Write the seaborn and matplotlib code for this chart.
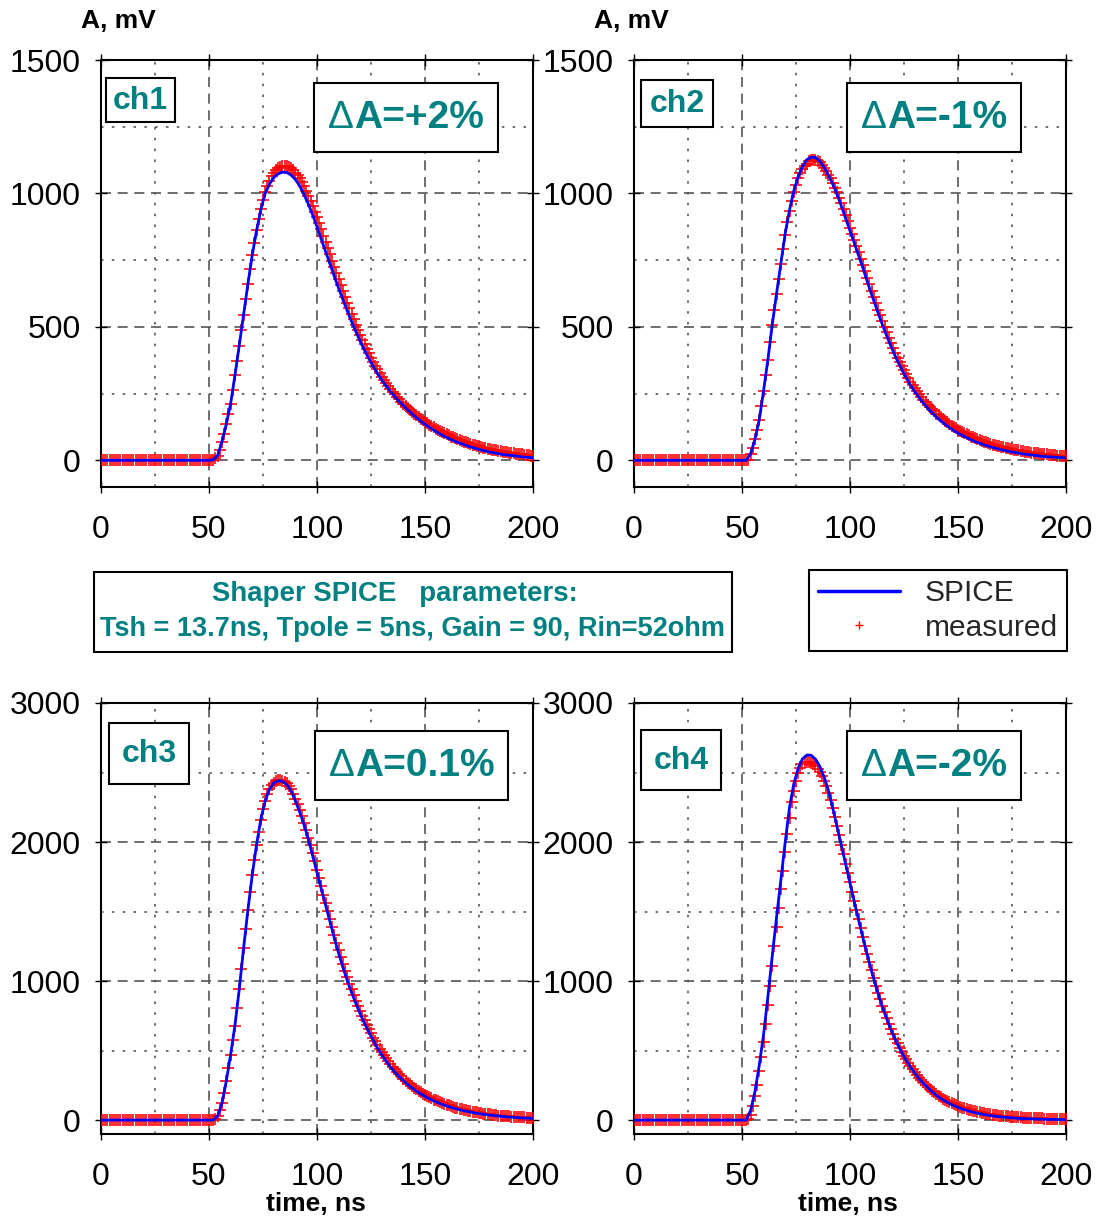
import matplotlib
matplotlib.use("Agg")
import numpy as np
import pandas as pd
import seaborn as sns
import matplotlib.pyplot as plt
from matplotlib.patches import Rectangle
from matplotlib.lines import Line2D
from matplotlib.ticker import MultipleLocator
from matplotlib import font_manager

# ---------------- data ----------------
t_spice = list(range(0, 201, 2))   # ns, SPICE curve sampling
t_meas = list(range(0, 201))       # ns, measured samples

spice_ch1 = [
    0, 0, 0, 0, 0, 0, 0, 0, 0, 0,
    0, 0, 0, 0, 0, 0, 0, 0, 0, 0,
    0, 0, 0, 0, 0, 0, 2, 18, 70, 135,
    212, 318, 430, 545, 660, 768, 860, 940, 1000, 1035,
    1060, 1073, 1080, 1078, 1069, 1052, 1028, 996, 960, 920,
    875, 828, 782, 736, 690, 645, 602, 560, 520, 482,
    446, 412, 381, 352, 325, 301, 279, 258, 239, 221,
    205, 189, 174, 160, 147, 135, 124, 113, 103, 94,
    86, 78, 71, 65, 59, 53, 48, 43, 39, 35,
    31, 28, 25, 22, 20, 18, 16, 14, 12, 11,
    10]
meas_ch1 = [
    0, 0, 0, 0, 0, 0, 0, 0, 0, 0,
    0, 0, 0, 0, 0, 0, 0, 0, 0, 0,
    0, 0, 0, 0, 0, 0, 0, 0, 0, 0,
    0, 0, 0, 0, 0, 0, 0, 0, 0, 0,
    0, 0, 0, 0, 0, 0, 0, 0, 0, 0,
    0, 0, 2, 8, 18, 40, 70, 100, 135, 172,
    212, 263, 318, 374, 430, 488, 545, 603, 660, 715,
    768, 816, 862, 903, 943, 975, 1005, 1028, 1048, 1065,
    1078, 1088, 1095, 1100, 1103, 1104, 1103, 1099, 1094, 1087,
    1078, 1068, 1056, 1042, 1027, 1010, 992, 973, 953, 932,
    910, 888, 865, 842, 818, 795, 772, 748, 725, 702,
    679, 656, 634, 612, 590, 569, 548, 528, 508, 489,
    470, 452, 434, 417, 401, 385, 370, 355, 341, 327,
    314, 302, 290, 279, 268, 257, 247, 238, 229, 220,
    212, 204, 196, 189, 182, 175, 168, 162, 156, 150,
    144, 139, 133, 128, 123, 118, 114, 109, 105, 101,
    97, 93, 89, 86, 82, 79, 76, 73, 70, 67,
    64, 62, 59, 57, 54, 52, 50, 48, 46, 44,
    42, 40, 39, 37, 35, 34, 32, 31, 30, 28,
    27, 26, 25, 24, 23, 22, 21, 20, 19, 18,
    17]

spice_ch2 = [
    0, 0, 0, 0, 0, 0, 0, 0, 0, 0,
    0, 0, 0, 0, 0, 0, 0, 0, 0, 0,
    0, 0, 0, 0, 0, 0, 0, 25, 79, 152,
    262, 378, 508, 625, 738, 850, 938, 1010, 1063, 1100,
    1126, 1136, 1135, 1121, 1098, 1068, 1035, 997, 953, 906,
    860, 814, 767, 720, 670, 622, 575, 530, 487, 446,
    408, 372, 340, 310, 282, 257, 235, 214, 195, 178,
    162, 148, 135, 123, 112, 102, 93, 85, 77, 70,
    64, 58, 53, 48, 44, 40, 36, 33, 30, 27,
    24, 22, 20, 18, 16, 14, 13, 12, 11, 10,
    9]
meas_ch2 = [
    0, 0, 0, 0, 0, 0, 0, 0, 0, 0,
    0, 0, 0, 0, 0, 0, 0, 0, 0, 0,
    0, 0, 0, 0, 0, 0, 0, 0, 0, 0,
    0, 0, 0, 0, 0, 0, 0, 0, 0, 0,
    0, 0, 0, 0, 0, 0, 0, 0, 0, 0,
    0, 0, 0, 3, 22, 48, 78, 112, 150, 205,
    260, 318, 376, 442, 506, 565, 622, 680, 736, 793,
    846, 893, 934, 972, 1004, 1032, 1056, 1076, 1092, 1104,
    1112, 1120, 1125, 1127, 1126, 1122, 1116, 1107, 1096, 1084,
    1070, 1056, 1040, 1022, 1004, 984, 963, 941, 918, 895,
    872, 849, 826, 803, 780, 756, 732, 708, 683, 659,
    635, 611, 588, 565, 543, 521, 500, 479, 459, 439,
    420, 402, 385, 368, 352, 337, 322, 308, 295, 282,
    270, 258, 247, 237, 227, 217, 208, 199, 191, 183,
    175, 168, 161, 154, 148, 142, 136, 130, 125, 120,
    115, 110, 106, 101, 97, 93, 89, 86, 82, 79,
    76, 73, 70, 67, 64, 62, 59, 57, 55, 53,
    51, 49, 47, 45, 43, 41, 40, 38, 37, 35,
    34, 33, 31, 30, 29, 28, 27, 26, 25, 24,
    23, 22, 21, 20, 20, 19, 18, 17, 17, 16,
    15]

spice_ch3 = [
    0, 0, 0, 0, 0, 0, 0, 0, 0, 0,
    0, 0, 0, 0, 0, 0, 0, 0, 0, 0,
    0, 0, 0, 0, 0, 0, 0, 30, 120, 280,
    470, 680, 940, 1235, 1510, 1760, 1980, 2165, 2295, 2380,
    2425, 2441, 2437, 2414, 2368, 2296, 2215, 2125, 2020, 1900,
    1780, 1662, 1545, 1428, 1312, 1200, 1098, 1005, 918, 838,
    764, 695, 632, 573, 518, 468, 423, 383, 346, 313,
    283, 256, 231, 209, 189, 171, 154, 139, 125, 113,
    102, 92, 83, 75, 67, 61, 55, 49, 44, 40,
    36, 32, 29, 26, 23, 21, 19, 17, 15, 14,
    12]
meas_ch3 = [
    0, 0, 0, 0, 0, 0, 0, 0, 0, 0,
    0, 0, 0, 0, 0, 0, 0, 0, 0, 0,
    0, 0, 0, 0, 0, 0, 0, 0, 0, 0,
    0, 0, 0, 0, 0, 0, 0, 0, 0, 0,
    0, 0, 0, 0, 0, 0, 0, 0, 0, 0,
    0, 0, 0, 5, 30, 70, 120, 195, 280, 372,
    470, 573, 680, 805, 940, 1088, 1235, 1375, 1510, 1638,
    1760, 1873, 1980, 2075, 2162, 2235, 2295, 2343, 2380, 2407,
    2427, 2439, 2445, 2446, 2442, 2434, 2421, 2402, 2378, 2348,
    2312, 2272, 2230, 2185, 2137, 2086, 2032, 1976, 1918, 1860,
    1800, 1740, 1681, 1622, 1564, 1506, 1448, 1390, 1333, 1277,
    1222, 1170, 1120, 1072, 1026, 982, 940, 899, 860, 822,
    786, 751, 717, 684, 653, 623, 594, 566, 540, 514,
    490, 466, 444, 423, 403, 383, 365, 347, 330, 314,
    299, 284, 270, 257, 244, 232, 221, 210, 200, 190,
    181, 172, 164, 156, 148, 141, 134, 128, 122, 116,
    110, 105, 100, 95, 90, 86, 82, 78, 74, 70,
    67, 64, 61, 58, 55, 52, 50, 47, 45, 43,
    41, 39, 37, 35, 33, 32, 30, 29, 28, 26,
    25, 24, 23, 22, 21, 20, 19, 18, 17, 16,
    15]

spice_ch4 = [
    0, 0, 0, 0, 0, 0, 0, 0, 0, 0,
    0, 0, 0, 0, 0, 0, 0, 0, 0, 0,
    0, 0, 0, 0, 0, 0, 0, 70, 205, 395,
    618, 890, 1180, 1460, 1728, 2000, 2250, 2420, 2530, 2598,
    2626, 2624, 2596, 2545, 2470, 2372, 2245, 2110, 1975, 1840,
    1705, 1570, 1438, 1310, 1187, 1070, 962, 862, 770, 687,
    612, 545, 484, 430, 381, 338, 299, 264, 233, 204,
    178, 156, 137, 120, 105, 92, 80, 70, 61, 53,
    46, 40, 35, 30, 26, 23, 20, 17, 15, 13,
    11, 10, 9, 8, 7, 6, 5, 5, 4, 4,
    3]
meas_ch4 = [
    0, 0, 0, 0, 0, 0, 0, 0, 0, 0,
    0, 0, 0, 0, 0, 0, 0, 0, 0, 0,
    0, 0, 0, 0, 0, 0, 0, 0, 0, 0,
    0, 0, 0, 0, 0, 0, 0, 0, 0, 0,
    0, 0, 0, 0, 0, 0, 0, 0, 0, 0,
    0, 0, 0, 5, 40, 100, 170, 255, 350, 455,
    565, 690, 825, 965, 1110, 1250, 1390, 1525, 1660, 1795,
    1930, 2055, 2175, 2285, 2370, 2440, 2495, 2535, 2560, 2573,
    2578, 2577, 2572, 2562, 2547, 2528, 2504, 2476, 2442, 2402,
    2356, 2302, 2244, 2180, 2114, 2047, 1980, 1912, 1845, 1777,
    1710, 1643, 1576, 1510, 1444, 1380, 1316, 1254, 1193, 1134,
    1076, 1021, 968, 917, 868, 821, 777, 734, 694, 656,
    619, 585, 552, 521, 491, 463, 437, 412, 388, 366,
    345, 325, 306, 288, 271, 255, 240, 225, 212, 199,
    187, 176, 165, 155, 146, 137, 129, 121, 114, 107,
    101, 95, 90, 85, 80, 75, 71, 67, 63, 59,
    56, 53, 50, 47, 44, 42, 40, 37, 35, 33,
    31, 30, 28, 27, 25, 24, 23, 21, 20, 19,
    18, 17, 16, 16, 15, 14, 13, 13, 12, 12,
    11, 11, 10, 10, 9, 9, 9, 8, 8, 8,
    7]

channel_names = ["ch1", "ch2", "ch3", "ch4"]
delta_labels = ["A=+2%", "A=-1%", "A=0.1%", "A=-2%"]
x_ticks = [0, 50, 100, 150, 200]
legend_labels = ["SPICE", "measured"]
param_lines = ["Shaper SPICE   parameters:",
               "Tsh = 13.7ns, Tpole = 5ns, Gain = 90, Rin=52ohm"]

for arr in (spice_ch1, spice_ch2, spice_ch3, spice_ch4):
    assert len(arr) == len(t_spice), len(arr)
for arr in (meas_ch1, meas_ch2, meas_ch3, meas_ch4):
    assert len(arr) == len(t_meas), len(arr)

# ---------------- style ----------------
sns.set_theme(style="white")
plt.rcParams["font.family"] = ["Liberation Sans", "DejaVu Sans"]

TEAL = "#008080"
W, H = 1099, 1218
fig = plt.figure(figsize=(W / 100, H / 100), dpi=100)


def add_px_axes(l, t, r, b, **kw):
    return fig.add_axes([l / W, 1 - b / H, (r - l) / W, (b - t) / H], **kw)


panels = [
    dict(box=(101, 60, 533, 487), ylim=(-100, 1500), major=500, minor=250,
         spice=spice_ch1, meas=meas_ch1),
    dict(box=(634, 60, 1066, 487), ylim=(-100, 1500), major=500, minor=250,
         spice=spice_ch2, meas=meas_ch2),
    dict(box=(101, 703, 533, 1134), ylim=(-100, 3000), major=1000, minor=500,
         spice=spice_ch3, meas=meas_ch3),
    dict(box=(634, 703, 1066, 1134), ylim=(-100, 3000), major=1000, minor=500,
         spice=spice_ch4, meas=meas_ch4),
]

for p in panels:
    ax = add_px_axes(*p["box"])
    ax.set_facecolor("white")
    dm = pd.DataFrame({"t": t_meas, "A": p["meas"]})
    ds = pd.DataFrame({"t": t_spice, "A": p["spice"]})
    sns.scatterplot(data=dm, x="t", y="A", ax=ax, marker="+", color="red",
                    s=70, linewidth=1.15, zorder=3, legend=False)
    sns.lineplot(data=ds, x="t", y="A", ax=ax, color="blue", lw=2.0,
                 zorder=4, legend=False)
    ax.set_xlim(0, 200)
    ax.set_ylim(*p["ylim"])
    ax.set_xticks(x_ticks)
    ax.xaxis.set_minor_locator(MultipleLocator(25))
    ax.yaxis.set_major_locator(MultipleLocator(p["major"]))
    ax.yaxis.set_minor_locator(MultipleLocator(p["minor"]))
    ax.set_ylim(*p["ylim"])
    ax.grid(True, which="major", ls=(0, (6, 4)), color="#555555", lw=1.2)
    ax.grid(True, which="minor", ls=(0, (1.5, 5)), color="#555555", lw=1.2)
    ax.set_axisbelow(True)
    ax.tick_params(which="major", direction="inout", length=9, width=1.0,
                   color="black", top=True, right=True, bottom=True, left=True,
                   labelsize=23, labelcolor="black")
    ax.tick_params(axis="x", which="major", pad=16)
    ax.tick_params(axis="y", which="major", pad=10)
    ax.tick_params(which="minor", length=0)
    ax.set_xlabel("")
    ax.set_ylabel("")
    for s in ax.spines.values():
        s.set_visible(True)
        s.set_color("black")
        s.set_linewidth(1.5)

# ---------------- overlay (annotations in pixel space) ----------------
ov = fig.add_axes([0, 0, 1, 1], zorder=10)
ov.set_xlim(0, W)
ov.set_ylim(H, 0)
ov.axis("off")
ov.patch.set_alpha(0)


def box(x0, y0, x1, y1):
    ov.add_patch(Rectangle((x0, y0), x1 - x0, y1 - y0, fc="white",
                           ec="black", lw=1.5, zorder=5))


ch_boxes = [(106, 78, 175, 122), (641, 80, 713, 127),
            (109, 723, 189, 784), (641, 730, 721, 790)]
da_boxes = [(314, 83, 498, 152), (847, 83, 1021, 152),
            (315, 731, 508, 800), (847, 731, 1021, 800)]

for name, b in zip(channel_names, ch_boxes):
    box(*b)
    ov.text((b[0] + b[2]) / 2, (b[1] + b[3]) / 2 + 1, name, ha="center",
            va="center", fontsize=23, fontweight="bold", color=TEAL, zorder=6)

delta_pairs = []
for lab, b in zip(delta_labels, da_boxes):
    box(*b)
    cy = (b[1] + b[3]) / 2 + 1
    td = ov.text(0, cy, "\u0394", ha="left", va="center", fontsize=28,
                 fontweight="normal", color=TEAL, zorder=6)
    tr = ov.text(0, cy, lab, ha="left", va="center", fontsize=28,
                 fontweight="bold", color=TEAL, zorder=6)
    delta_pairs.append((td, tr, b))

# parameters box
box(94, 572, 732, 652)
try:
    font_manager.findfont(font_manager.FontProperties(family="Liberation Sans Narrow"),
                          fallback_to_default=False)
    narrow = ["Liberation Sans Narrow", "Liberation Sans"]
except Exception:
    narrow = ["Liberation Sans", "DejaVu Sans"]
p1 = ov.text(395, 594, param_lines[0], ha="center", va="center", fontsize=18,
             fontweight="bold", color=TEAL, family=narrow, zorder=6)
p2 = ov.text(412, 629, param_lines[1], ha="center", va="center", fontsize=18,
             fontweight="bold", color=TEAL, family=narrow, zorder=6)

# legend
handles = [Line2D([], [], color="blue", lw=2.5),
           Line2D([], [], ls="", marker="+", color="red", ms=6, mew=1.0)]
leg = ov.legend(handles, legend_labels, loc="center",
                bbox_to_anchor=(938, 610.5), bbox_transform=ov.transData,
                fontsize=21.5, frameon=True, fancybox=False, framealpha=1,
                edgecolor="black", handlelength=2.74, handletextpad=0.84,
                borderpad=0.3, labelspacing=0.22)
leg.get_frame().set_linewidth(1.5)
leg.set_zorder(7)

# axis titles
for x in (118, 631):
    ov.text(x, 21, "A, mV", ha="center", va="center", fontsize=19,
            fontweight="bold", color="black")
for x in (316, 848):
    ov.text(x, 1204, "time, ns", ha="center", va="center", fontsize=19,
            fontweight="bold", color="black")

# ---- fit text widths / centre delta labels ----
fig.canvas.draw()
r = fig.canvas.get_renderer()
for txt, target in ((p1, 365), (p2, 624)):
    w = txt.get_window_extent(r).width
    txt.set_fontsize(txt.get_fontsize() * target / w)
fig.canvas.draw()
for td, tr, b in delta_pairs:
    wd = td.get_window_extent(r).width
    wr = tr.get_window_extent(r).width
    cx = (b[0] + b[2]) / 2
    x0 = cx - (wd + wr) / 2
    td.set_x(x0)
    tr.set_x(x0 + wd)

fig.savefig("out.png", dpi=100)
